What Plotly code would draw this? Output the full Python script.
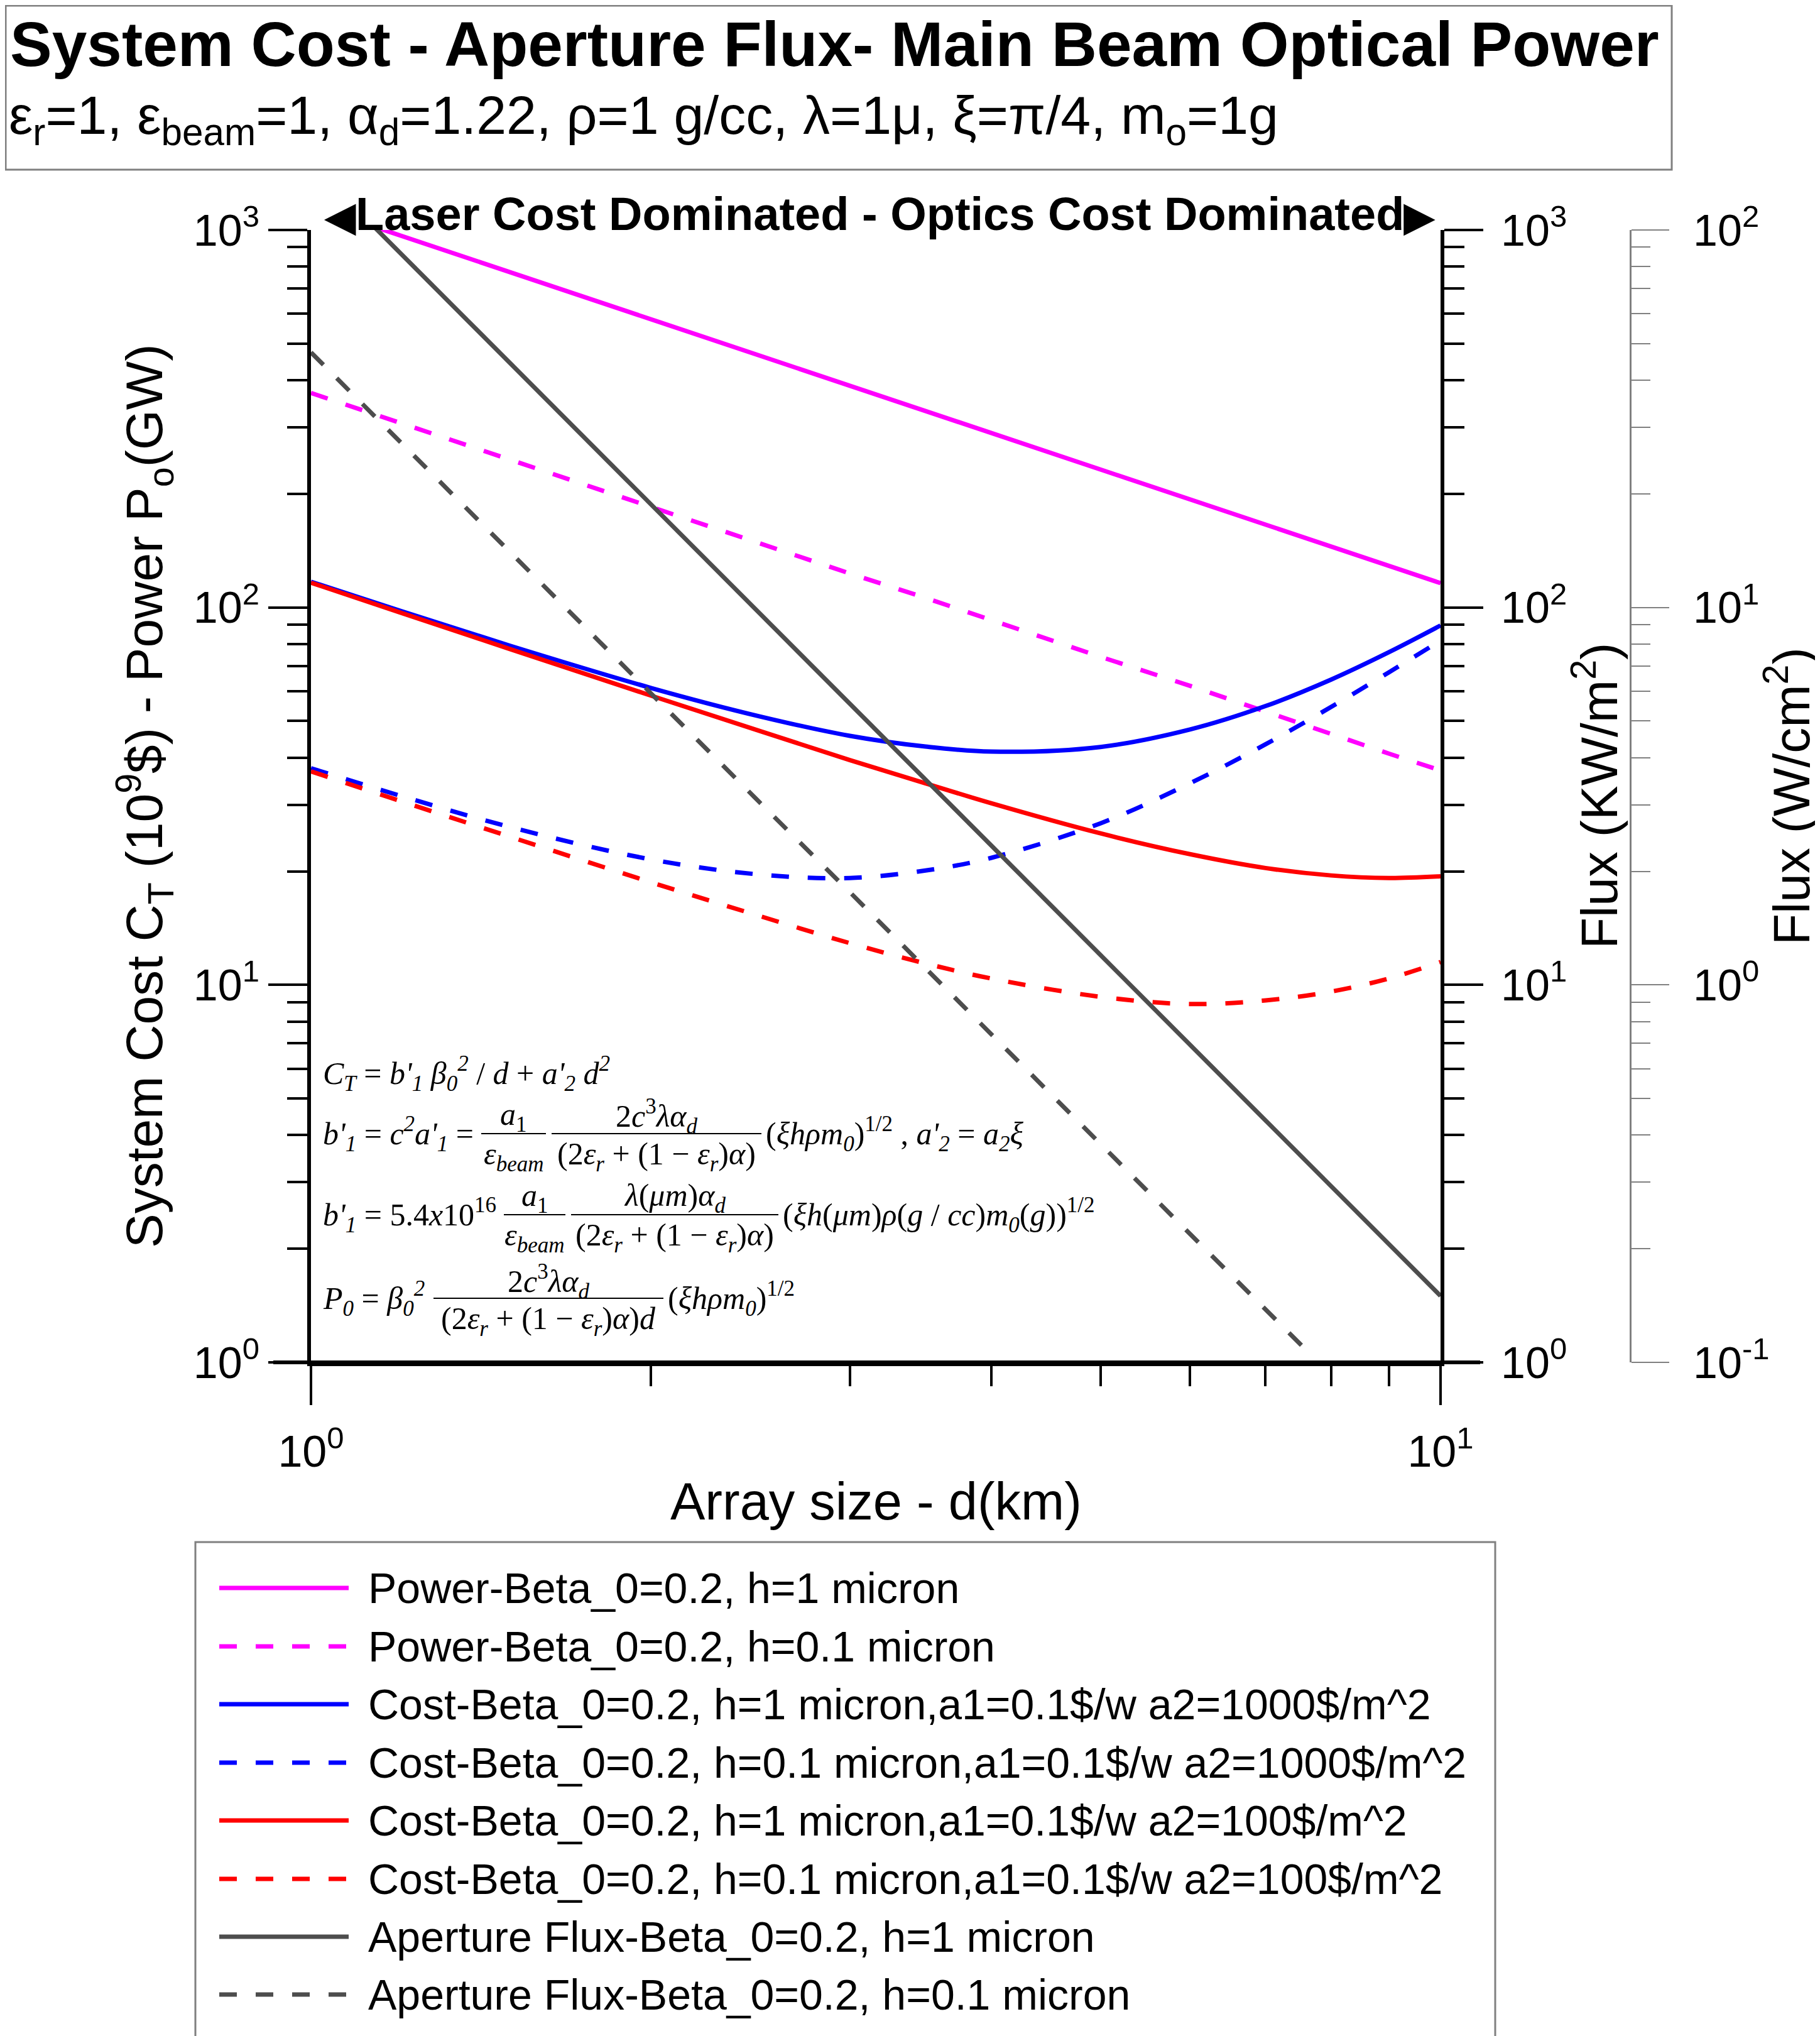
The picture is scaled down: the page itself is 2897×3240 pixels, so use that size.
import plotly.graph_objects as go

W, H = 2897, 3240

# values
d_km = [1, 1.2, 1.5, 2, 2.5, 3, 3.5, 4, 5, 6, 7, 8, 9, 10]
power_h1 = [1160, 967, 773, 580, 464, 387, 331, 290, 232, 193, 166, 145, 129, 116]
power_h01 = [370, 308, 247, 185, 148, 123, 106, 92.5, 74, 62, 53, 46, 41, 37]
cost_h1_a1000 = [117, 97.9, 79.2, 61.2, 51.4, 45.7, 42.8, 41.5, 42.7, 47.5, 54.8, 64.4, 76.1, 89.6]
cost_h01_a1000 = [37.5, 31.7, 26.2, 21.5, 19.6, 19.2, 20.1, 21.7, 26.8, 34.2, 43.4, 54.5, 67.3, 81.7]
cost_h1_a100 = [116.3, 96.9, 77.6, 58.4, 47.0, 39.4, 34.2, 30.3, 25.2, 22.2, 20.4, 19.5, 19.2, 19.4]
cost_h01_a100 = [36.8, 30.7, 24.7, 18.7, 15.2, 12.9, 11.4, 10.4, 9.3, 8.9, 9.1, 9.6, 10.4, 11.5]
flux_h1 = [1500, 868, 444, 187.5, 96, 55.6, 35, 23.4, 12.0, 6.94, 4.37, 2.93, 2.06, 1.5]
d_flux_h01 = [1, 1.2, 1.5, 2, 2.5, 3, 3.5, 4, 5, 6, 7, 7.6]
flux_h01 = [474, 274, 140, 59.3, 30.3, 17.6, 11.1, 7.4, 3.79, 2.19, 1.38, 1.08]

# W/cm^2 axis range (0.1 .. 100)
wcm2_range = [0.1, 100]

names = [
    'Power-Beta_0=0.2, h=1 micron',
    'Power-Beta_0=0.2, h=0.1 micron',
    'Cost-Beta_0=0.2, h=1 micron,a1=0.1$/w a2=1000$/m^2',
    'Cost-Beta_0=0.2, h=0.1 micron,a1=0.1$/w a2=1000$/m^2',
    'Cost-Beta_0=0.2, h=1 micron,a1=0.1$/w a2=100$/m^2',
    'Cost-Beta_0=0.2, h=0.1 micron,a1=0.1$/w a2=100$/m^2',
    'Aperture Flux-Beta_0=0.2, h=1 micron',
    'Aperture Flux-Beta_0=0.2, h=0.1 micron',
]
colors = ['#ff00ff', '#ff00ff', '#0000ff', '#0000ff', '#ff0000', '#ff0000', '#4d4d4d', '#4d4d4d']
DASH = '28px,30px'
dashes = ['solid', DASH, 'solid', DASH, 'solid', DASH, 'solid', DASH]

xs = [d_km, d_km, d_km, d_km, d_km, d_km, d_km, d_flux_h01]
ys = [power_h1, power_h01, cost_h1_a1000, cost_h01_a1000,
      cost_h1_a100, cost_h01_a100, flux_h1, flux_h01]
yaxes = ['y', 'y', 'y', 'y', 'y', 'y', 'y2', 'y2']
shapes_ = ['linear', 'linear', 'spline', 'spline', 'spline', 'spline', 'linear', 'linear']


def px(x):
    return x / W


def py(y):
    return 1 - y / H


fig = go.Figure()
for i in range(len(names)):
    fig.add_trace(go.Scatter(
        x=xs[i], y=ys[i], name=names[i], mode='lines', yaxis=yaxes[i],
        line=dict(color=colors[i], width=7, dash=dashes[i], shape=shapes_[i]),
        showlegend=False
    ))

# invisible helper so the third (W/cm^2) axis gets drawn
fig.add_trace(go.Scatter(x=[d_km[0], d_km[-1]], y=wcm2_range, yaxis='y3', mode='lines',
                         line=dict(width=0), opacity=0, hoverinfo='skip', showlegend=False))

sans = 'Liberation Sans, Arial, sans-serif'
serif = 'Liberation Serif, Times New Roman, serif'
decade_minor = [m * 10 ** k for k in range(-1, 3) for m in range(2, 10)]
TICK = 70

fig.update_layout(
    width=W, height=H,
    margin=dict(l=0, r=0, t=0, b=0, pad=0, autoexpand=False),
    paper_bgcolor='white', plot_bgcolor='white',
    font=dict(family=sans, color='black'),
    xaxis=dict(
        type='log', range=[0, 1], domain=[px(487), px(2285)], anchor='y', automargin=False,
        showgrid=False, zeroline=False, showline=True, linewidth=6, linecolor='black',
        ticks='outside', ticklen=62, tickwidth=4, tickcolor='black',
        tickvals=[1, 10], ticktext=['10<sup>0</sup>', '10<sup>1</sup>'],
        tickfont=dict(size=TICK), ticklabelstandoff=14,
        minor=dict(ticks='outside', ticklen=32, tickwidth=4, tickcolor='black',
                   tickvals=list(range(2, 10)), showgrid=False),
    ),
    yaxis=dict(
        type='log', range=[0, 3], domain=[py(2160), py(358)], anchor='x', automargin=False,
        showgrid=False, zeroline=False, showline=True, linewidth=6, linecolor='black',
        ticks='outside', ticklen=62, tickwidth=4, tickcolor='black',
        tickvals=[1, 10, 100, 1000],
        ticktext=['10<sup>0</sup>', '10<sup>1</sup>', '10<sup>2</sup>', '10<sup>3</sup>'],
        tickfont=dict(size=TICK), ticklabelstandoff=0,
        minor=dict(ticks='outside', ticklen=32, tickwidth=4, tickcolor='black',
                   tickvals=decade_minor, showgrid=False),
    ),
    yaxis2=dict(
        type='log', range=[0, 3], overlaying='y', side='right', anchor='x', automargin=False,
        showgrid=False, zeroline=False, showline=True, linewidth=6, linecolor='black',
        ticks='outside', ticklen=62, tickwidth=4, tickcolor='black',
        tickvals=[1, 10, 100, 1000],
        ticktext=['10<sup>0</sup>', '10<sup>1</sup>', '10<sup>2</sup>', '10<sup>3</sup>'],
        tickfont=dict(size=TICK), ticklabelstandoff=14,
        minor=dict(ticks='outside', ticklen=32, tickwidth=4, tickcolor='black',
                   tickvals=decade_minor, showgrid=False),
    ),
    yaxis3=dict(
        type='log', range=[-1, 2], overlaying='y', side='right', anchor='free',
        position=px(2587), automargin=False,
        showgrid=False, zeroline=False, showline=True, linewidth=3, linecolor='#808080',
        ticks='outside', ticklen=60, tickwidth=2, tickcolor='#808080',
        tickvals=[0.1, 1, 10, 100],
        ticktext=['10<sup>-1</sup>', '10<sup>0</sup>', '10<sup>1</sup>', '10<sup>2</sup>'],
        tickfont=dict(size=TICK), ticklabelstandoff=24,
        minor=dict(ticks='outside', ticklen=30, tickwidth=2, tickcolor='#808080',
                   tickvals=decade_minor, showgrid=False),
    ),
    showlegend=False,
)

shapes = []
# title box
shapes.append(dict(type='rect', xref='paper', yref='paper', x0=px(1), x1=px(2653),
                   y0=py(262), y1=py(1), line=dict(color='#808080', width=3)))
# x axis line extends past the plot edges
shapes.append(dict(type='line', xref='paper', yref='paper', x0=px(427), x1=px(2348),
                   y0=py(2160), y1=py(2160), line=dict(color='black', width=6)))
# legend box
shapes.append(dict(type='rect', xref='paper', yref='paper', x0=px(303), x1=px(2372),
                   y0=py(3237), y1=py(2446), line=dict(color='#808080', width=3)))

annotations = []
annotations.append(dict(
    text='System Cost - Aperture Flux- Main Beam Optical Power', xref='paper', yref='paper',
    x=px(6), y=py(62), xanchor='left', yanchor='middle', showarrow=False,
    font=dict(size=100, family=sans, weight='bold')))
annotations.append(dict(
    text='ε<sub>r</sub>=1, ε<sub>beam</sub>=1, α<sub>d</sub>=1.22, ρ=1 g/cc, λ=1μ, ξ=π/4, m<sub>o</sub>=1g',
    xref='paper', yref='paper', x=px(4), y=py(182), xanchor='left', yanchor='middle',
    showarrow=False, font=dict(size=86, family=sans)))
annotations.append(dict(
    text='<span style="font-size:62px">◀</span>Laser Cost Dominated - Optics Cost Dominated'
         '<span style="font-size:62px">▶</span>',
    xref='paper', yref='paper',
    x=px(1392), y=py(333), xanchor='center', yanchor='middle', showarrow=False,
    font=dict(size=74, family=sans, weight='bold')))

# axis titles
annotations.append(dict(
    text='System Cost C<sub>T</sub> (10<sup>9</sup>$) - Power P<sub>o</sub>(GW)',
    xref='paper', yref='paper', x=px(222), y=py(1259), textangle=-90,
    xanchor='center', yanchor='middle', showarrow=False, font=dict(size=82)))
annotations.append(dict(
    text='Array size - d(km)', xref='paper', yref='paper', x=px(1386), y=py(2381),
    xanchor='center', yanchor='middle', showarrow=False, font=dict(size=83)))
annotations.append(dict(
    text='Flux (KW/m<sup>2</sup>)', xref='paper', yref='paper', x=px(2532), y=py(1259),
    textangle=-90, xanchor='center', yanchor='middle', showarrow=False, font=dict(size=82)))
annotations.append(dict(
    text='Flux (W/cm<sup>2</sup>)', xref='paper', yref='paper', x=px(2838), y=py(1259),
    textangle=-90, xanchor='center', yanchor='middle', showarrow=False, font=dict(size=82)))

# equations (text pieces + fraction bars)
EQ = 50
eq_left = [
    ("<i>C<sub>T</sub></i> = <i>b'<sub>1</sub> β<sub>0</sub><sup>2</sup></i> / <i>d</i> + <i>a'<sub>2</sub> d<sup>2</sup></i>", 504, 1700),
    ("<i>b'<sub>1</sub></i> = <i>c<sup>2</sup>a'<sub>1</sub></i> =", 504, 1796),
    ("(<i>ξhρm<sub>0</sub></i>)<sup>1/2</sup> , <i>a'<sub>2</sub></i> = <i>a<sub>2</sub>ξ</i>", 1209, 1796),
    ("<i>b'<sub>1</sub></i> = 5.4<i>x</i>10<sup>16</sup>", 504, 1925),
    ("(<i>ξh</i>(<i>μm</i>)<i>ρ</i>(<i>g</i> / <i>cc</i>)<i>m<sub>0</sub></i>(<i>g</i>))<sup>1/2</sup>", 1236, 1925),
    ("<i>P<sub>0</sub></i> = <i>β<sub>0</sub><sup>2</sup></i>", 504, 2058),
    ("(<i>ξhρm<sub>0</sub></i>)<sup>1/2</sup>", 1053, 2058),
]
for txt, x, y in eq_left:
    annotations.append(dict(text=txt, xref='paper', yref='paper', x=px(x), y=py(y),
                            xanchor='left', yanchor='middle', showarrow=False,
                            font=dict(size=EQ, family=serif)))

denom_a = "(2<i>ε<sub>r</sub></i> + (1 − <i>ε<sub>r</sub></i>)<i>α</i>)"
fracs = [
    ("<i>a</i><sub>1</sub>", "<i>ε<sub>beam</sub></i>", 758, 861, 1796),
    ("2<i>c</i><sup>3</sup><i>λα<sub>d</sub></i>", denom_a, 870, 1204, 1796),
    ("<i>a</i><sub>1</sub>", "<i>ε<sub>beam</sub></i>", 794, 892, 1925),
    ("<i>λ</i>(<i>μm</i>)<i>α<sub>d</sub></i>", denom_a, 901, 1231, 1925),
    ("2<i>c</i><sup>3</sup><i>λα<sub>d</sub></i>", denom_a + "<i>d</i>", 682, 1048, 2058),
]
for num, den, x0, x1, yb in fracs:
    xc = (x0 + x1) / 2
    annotations.append(dict(text=num, xref='paper', yref='paper', x=px(xc), y=py(yb - 27),
                            xanchor='center', yanchor='middle', showarrow=False,
                            font=dict(size=EQ, family=serif)))
    annotations.append(dict(text=den, xref='paper', yref='paper', x=px(xc), y=py(yb + 36),
                            xanchor='center', yanchor='middle', showarrow=False,
                            font=dict(size=EQ, family=serif)))
    shapes.append(dict(type='line', xref='paper', yref='paper', x0=px(x0), x1=px(x1),
                       y0=py(yb), y1=py(yb), line=dict(color='black', width=2)))

# legend drawn by hand so the line samples match the long Tecplot samples
row_y = [2519, 2612, 2704, 2797, 2889, 2982, 3074, 3166]
for i in range(len(names)):
    shapes.append(dict(type='line', xref='paper', yref='paper', x0=px(341), x1=px(547),
                       y0=py(row_y[i]), y1=py(row_y[i]),
                       line=dict(color=colors[i], width=7, dash=dashes[i])))
    annotations.append(dict(text=names[i], xref='paper', yref='paper', x=px(576),
                            y=py(row_y[i]), xanchor='left', yanchor='middle',
                            showarrow=False, font=dict(size=68)))

fig.update_layout(shapes=shapes, annotations=annotations)

fig.write_html("out.html")
